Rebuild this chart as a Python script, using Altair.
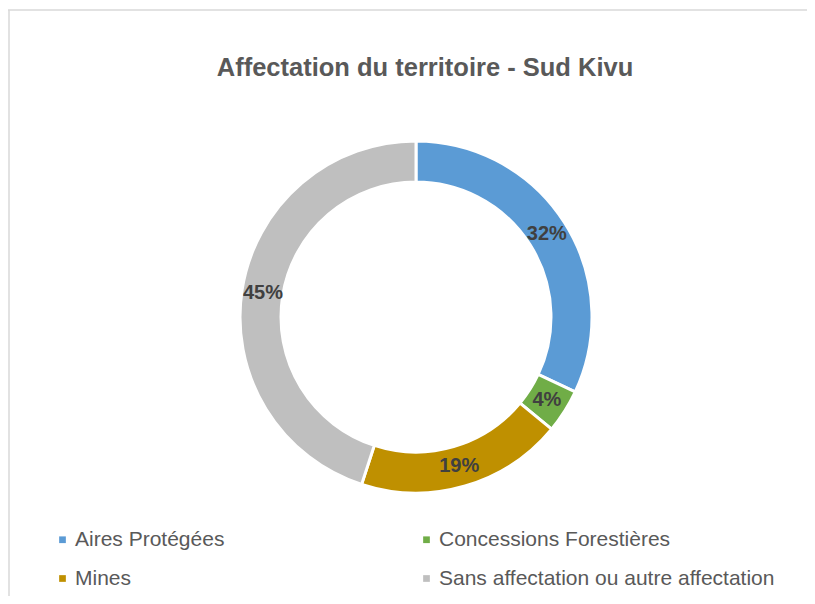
import altair as alt
import pandas as pd

categories = ["Aires Protégées", "Concessions Forestières", "Mines", "Sans affectation ou autre affectation"]
values = [32, 4, 19, 45]
colors = ["#5B9BD5", "#70AD47", "#BF9000", "#BFBFBF"]
legend_order = ["Aires Protégées", "Mines", "Concessions Forestières", "Sans affectation ou autre affectation"]
title_text = "Affectation du territoire - Sud Kivu"

df = pd.DataFrame({
    "cat": categories,
    "value": values,
    "idx": list(range(len(categories))),
    "label": [f"{v}%" for v in values],
})
color_map = dict(zip(categories, colors))

CX, CY = 408, 309
FONT = "Liberation Sans"

base = alt.Chart(df).encode(
    theta=alt.Theta("value:Q", stack=True),
    order=alt.Order("idx:Q"),
)

arcs = base.mark_arc(
    outerRadius=176, innerRadius=135, stroke="white", strokeWidth=3
).encode(
    x=alt.value(CX),
    y=alt.value(CY),
    color=alt.Color(
        "cat:N",
        scale=alt.Scale(domain=legend_order, range=[color_map[c] for c in legend_order]),
        legend=alt.Legend(
            title=None,
            orient="none",
            legendX=44,
            legendY=521,
            columns=2,
            columnPadding=191,
            rowPadding=17,
            symbolType="square",
            symbolSize=45,
            symbolStrokeWidth=0,
            labelFont=FONT,
            labelFontSize=21,
            labelColor="#595959",
            labelLimit=400,
            labelOffset=2,
        ),
    ),
)

labels = base.mark_text(
    radius=155, font=FONT, fontSize=20, fontWeight="bold", color="#404040"
).encode(
    x=alt.value(CX),
    y=alt.value(CY),
    text="label:N",
)

title = alt.Chart(pd.DataFrame({"t": [title_text]})).mark_text(
    font=FONT, fontSize=25.5, fontWeight="bold", color="#595959"
).encode(
    x=alt.value(417),
    y=alt.value(60),
    text="t:N",
)

frame_top = alt.Chart(pd.DataFrame({"t": [0]})).mark_rule(
    color="#D9D9D9", strokeWidth=1.5
).encode(x=alt.value(0), x2=alt.value(799), y=alt.value(2))

frame_left = alt.Chart(pd.DataFrame({"t": [0]})).mark_rule(
    color="#D9D9D9", strokeWidth=1.5
).encode(x=alt.value(1), y=alt.value(2), y2=alt.value(588))

chart = alt.layer(frame_top, frame_left, arcs, labels, title).properties(
    width=799,
    height=588,
    padding=0,
    autosize=alt.AutoSizeParams(type="none"),
).configure_view(
    stroke=None,
)

chart.save("out.html", embed_options={"renderer": "svg", "actions": False})
